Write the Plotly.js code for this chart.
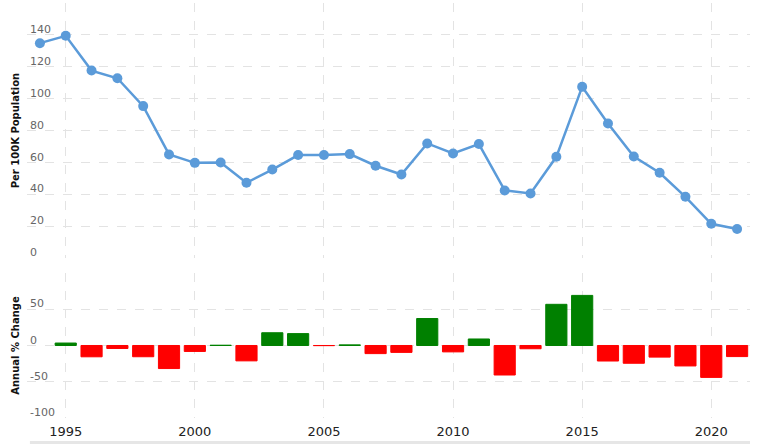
<!DOCTYPE html>
<html>
<head>
<meta charset="utf-8">
<script src="https://cdn.plot.ly/plotly-3.0.1.min.js"></script>
<style>html,body{margin:0;padding:0;background:#fff;}#chart{width:760px;height:444px;}</style>
</head>
<body>
<div id="chart"></div>
<script>
// Rate per 100K population
const years = [1994,1995,1996,1997,1998,1999,2000,2001,2002,2003,2004,2005,2006,2007,2008,2009,2010,2011,2012,2013,2014,2015,2016,2017,2018,2019,2020,2021];
const rate = [134.8,139.4,117.6,112.8,95.3,65.0,59.7,59.9,47.2,55.5,64.6,64.6,65.2,57.9,52.4,71.9,65.6,71.5,42.4,40.5,63.5,107.4,84.4,63.7,53.5,38.4,21.5,18.2];
// Annual % change
const changeYears = [1995,1996,1997,1998,1999,2000,2001,2002,2003,2004,2005,2006,2007,2008,2009,2010,2011,2012,2013,2014,2015,2016,2017,2018,2019,2020,2021];
const change = [3.4,-15.6,-4.1,-15.5,-31.8,-8.2,0.4,-21.2,17.6,16.4,-0.2,0.9,-11.2,-9.5,37.2,-8.8,9.0,-40.7,-4.5,56.8,69.1,-21.4,-24.5,-16.0,-28.2,-44.0,-15.3];
const xTicks = [1995,2000,2005,2010,2015,2020];
const rateTicks = [0,20,40,60,80,100,120,140,160];
const rateTickText = ['0','20','40','60','80','100','120','140',''];
const changeTicks = [-100,-50,0,50,100];
const changeTickText = ['-100','-50','0','50',''];

const FONT = 'DejaVu Sans, Verdana, sans-serif';
const gridStyle = {showgrid:true, gridcolor:'#e3e3e3', griddash:'dash', gridwidth:1, zeroline:false, showline:false, ticks:''};
const barColors = change.map(v => v >= 0 ? '#008000' : '#ff0000');

const traces = [
  {x: years, y: rate, type:'scatter', mode:'lines+markers', xaxis:'x', yaxis:'y',
   line:{color:'#5b9bd9', width:2.5}, marker:{color:'#5b9bd9', size:10}, hoverinfo:'x+y'},
  {x: changeYears, y: change, type:'bar', xaxis:'x2', yaxis:'y2', width:0.82,
   marker:{color: barColors, line:{color: barColors, width:1}},
   hoverinfo:'x+y'}
];

const layout = {
  width:760, height:444, showlegend:false,
  paper_bgcolor:'#fff', plot_bgcolor:'#fff',
  margin:{l:27, r:10, t:3, b:26},
  font:{family:FONT},
  xaxis: Object.assign({}, gridStyle, {domain:[0,1], range:[1993.5,2021.5], anchor:'y', tickvals:xTicks, showticklabels:false}),
  yaxis: Object.assign({}, gridStyle, {domain:[0.3855,1], range:[0,160], anchor:'x', tickvals:rateTicks, ticktext:rateTickText,
    ticklabelposition:'inside top', ticklabelshift:2, ticklabeloverflow:'allow', tickfont:{size:11, color:'#666', family:FONT},
    title:{text:'Per 100K Population', font:{size:10, color:'#111', family:'DejaVu Sans, sans-serif', weight:'bold'}, standoff:8}}),
  xaxis2: Object.assign({}, gridStyle, {domain:[0,1], range:[1993.5,2021.5], anchor:'y2', tickvals:xTicks,
    ticklabelstandoff:4, tickfont:{size:13, color:'#222', family:FONT}}),
  yaxis2: Object.assign({}, gridStyle, {domain:[0,0.3494], range:[-100,100], anchor:'x2', tickvals:changeTicks, ticktext:changeTickText,
    ticklabelposition:'inside top', ticklabelshift:2, ticklabeloverflow:'allow', tickfont:{size:11, color:'#666', family:FONT},
    title:{text:'Annual % Change', font:{size:10, color:'#111', family:'DejaVu Sans, sans-serif', weight:'bold'}, standoff:8}}),
  shapes:[
    {type:'rect', xref:'paper', yref:'paper', x0:0.004, x1:1, y0:-0.0554, y1:-0.0627, fillcolor:'#e6e6e6', line:{width:0}, layer:'above'}
  ]
};

Plotly.newPlot('chart', traces, layout, {displayModeBar:false, staticPlot:true});
</script>
</body>
</html>
